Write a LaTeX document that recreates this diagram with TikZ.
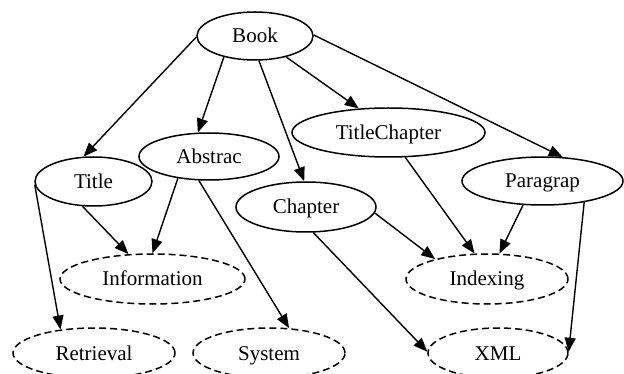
\documentclass[tikz,border=0pt]{standalone}
\usepackage{fontspec}
\setmainfont{Liberation Serif}
\usetikzlibrary{arrows.meta,shapes.geometric}
\begin{document}
\begin{tikzpicture}[x=1pt,y=-1pt,
  el/.style={ellipse,draw,line width=1.5pt,inner sep=0pt,
    font=\fontsize{21}{21}\selectfont,text height=14pt,text depth=0pt},
  dl/.style={el,dash pattern=on 7pt off 4pt},
  ar/.style={line width=1.4pt,-{Triangle[length=14pt,width=11pt]}}]
\useasboundingbox (0,0) rectangle (624,374);
\node[el,minimum width=116pt,minimum height=48pt] (book) at (255,36) {Book};
\node[el,minimum width=117pt,minimum height=49pt] (title) at (93.5,181.5) {Title};
\node[el,minimum width=140pt,minimum height=47pt] (abstrac) at (209,156.5) {Abstrac};
\node[el,minimum width=140pt,minimum height=50pt] (chapter) at (306,207) {Chapter};
\node[el,minimum width=193pt,minimum height=49pt] (titlechapter) at (388.5,132.5) {TitleChapter};
\node[el,minimum width=161pt,minimum height=48pt] (paragrap) at (542.5,181) {Paragrap};
\node[dl,minimum width=185pt,minimum height=50pt] (information) at (152.5,279) {Information};
\node[dl,minimum width=162pt,minimum height=50pt] (indexing) at (487,279) {Indexing};
\node[dl,minimum width=162pt,minimum height=50pt] (retrieval) at (94,353) {Retrieval};
\node[dl,minimum width=152pt,minimum height=50pt] (system) at (269,353) {System};
\node[dl,minimum width=140pt,minimum height=50pt] (xml) at (498,353) {XML};
\draw[ar] (book.181) -- (title.112);
\draw[ar] (book.214) -- (abstrac.115);
\draw[ar] (book.279) -- (chapter.94);
\draw[ar] (book.326) -- (titlechapter.141);
\draw[ar] (book.1) -- (paragrap.50);
\draw[ar] (title.246) -- (information.134);
\draw[ar] (title.183.5) -- (retrieval.145);
\draw[ar] (abstrac.215) -- (information.90);
\draw[ar] (abstrac.247.5) -- (system.51);
\draw[ar] (chapter.355) -- (indexing.159);
\draw[ar] (titlechapter.304.5) -- (indexing.116);
\draw[ar] (chapter.286) -- (xml.179);
\draw[ar] (paragrap.231.7) -- (indexing.64);
\draw[ar] (paragrap.333) -- (xml.1);
\end{tikzpicture}
\end{document}
